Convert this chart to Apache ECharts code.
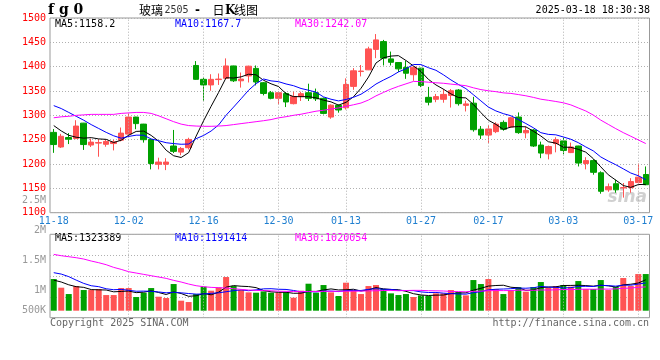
<!DOCTYPE html>
<html><head><meta charset="utf-8">
<script src="https://cdn.jsdelivr.net/npm/echarts@6/dist/echarts.min.js"></script>
<style>html,body{margin:0;padding:0;background:#fff}#c{width:660px;height:360px}</style>
</head><body><div id="c"></div>
<script>
const dates = ['11-18','11-19','11-20','11-21','11-22','11-25','11-26','11-27','11-28','11-29',
 '12-02','12-03','12-04','12-05','12-06','12-09','12-10','12-11','12-12','12-13',
 '12-16','12-17','12-18','12-19','12-20','12-23','12-24','12-25','12-26','12-27',
 '12-30','12-31','01-02','01-03','01-06','01-07','01-08','01-09','01-10','01-13',
 '01-14','01-15','01-16','01-17','01-20','01-21','01-22','01-23','01-24','01-27',
 '02-05','02-06','02-07','02-10','02-11','02-12','02-13','02-14','02-17','02-18',
 '02-19','02-20','02-21','02-24','02-25','02-26','02-27','02-28','03-03','03-04',
 '03-05','03-06','03-07','03-10','03-11','03-12','03-13','03-14','03-17','03-18'];
const tickDates = ['11-18','12-02','12-16','12-30','01-13','01-27','02-17','03-03','03-17'];

const openP = [1265,1235,1254.5,1252.5,1284,1239,1243,1240.5,1242,1249,
 1261.5,1296.5,1282,1250.5,1199.5,1199.5,1237,1224.5,1233.5,1402.5,
 1374,1362.5,1373.5,1376,1401.5,1371,1381,1396.5,1367,1346.5,
 1335,1345,1324,1338.5,1346.5,1346.5,1335,1296.5,1320.5,1315.5,
 1359.5,1390,1393.5,1435.5,1451.5,1416,1408.5,1398.5,1383.5,1397,
 1337,1333,1333,1341,1352,1320.5,1325,1271.5,1259.5,1266.5,
 1285.5,1276,1296.5,1264,1270,1239,1221,1242,1247.5,1223.5,
 1237,1201,1207,1182,1147,1159.5,1151,1151.5,1162,1178.5];
const closeP = [1240,1257,1251,1278,1240,1245,1244,1246.5,1245.5,1263.5,
 1296.5,1283,1250,1201,1204,1204,1226,1232,1250.5,1374,
 1362.5,1374,1374.5,1401.5,1371,1374.5,1401,1368.5,1345,1335,
 1346.5,1327.5,1338.5,1344.5,1335,1334,1304,1321,1311,1363.5,
 1391.5,1391,1436.5,1455,1417.5,1409,1395.5,1386.5,1399,1361.5,
 1327,1338.5,1343,1350.5,1324,1323.5,1270.5,1259.5,1272,1282,
 1271.5,1295,1264.5,1269,1237,1222.5,1236,1250,1228,1235,
 1202,1207,1183,1144,1153.5,1147,1151.5,1164,1173,1157.5];
const lowP = [1223,1233,1241,1251,1229,1235,1215,1235.5,1228,1246.5,
 1256,1271.5,1244,1189,1189,1187.5,1222.5,1218,1230,1373,
 1330,1350.5,1362.5,1375.5,1368.5,1357,1367.5,1361.5,1341,1333,
 1322.5,1317,1322.5,1329.5,1329.5,1329.5,1302,1293,1305.5,1312,
 1352.5,1380,1393,1417.5,1402.5,1402.5,1389,1375,1371,1358,
 1320.5,1327,1326,1316,1320,1308,1266.5,1251.5,1243,1263.5,
 1268.5,1274,1262,1253,1235,1212,1209.5,1224,1220,1222.5,
 1195,1189,1178,1139,1143,1141,1131,1141,1160,1156.5];
const highP = [1272,1262,1263.5,1290,1284.5,1252,1251,1250.5,1249.5,1275,
 1303.5,1297,1282.5,1251,1213,1212,1270,1235,1254,1411.5,
 1377.5,1384.5,1386,1417,1402,1388,1402,1402.5,1368.5,1350,
 1348.5,1348,1348.5,1348.5,1365,1355,1336.5,1322.5,1322.5,1376,
 1397,1403.5,1441,1467,1455,1431,1409.5,1412,1399.5,1397.5,
 1358.5,1344,1354,1354,1354,1330,1338,1278,1280,1286,
 1289.5,1297,1306,1277,1272,1246,1238,1255,1254,1244,
 1237.5,1214,1210,1185,1160,1168,1161,1171,1201,1195];

const ma5 = [1279,1268,1259,1255,1253.2,1254.2,1251.6,1250.7,1244.2,1248.9,
 1259.2,1267,1267.7,1258.8,1246.9,1228.4,1217,1213.4,1223.3,1257.3,
 1289,1318.6,1347.1,1377.3,1376.7,1379.1,1384.5,1383.3,1372,1364.8,
 1359.2,1344.5,1338.5,1338.4,1338.4,1335.9,1331.2,1327.7,1321,1326.7,
 1338.2,1355.6,1378.7,1407.5,1418.3,1421.8,1422.7,1412.7,1401.5,1390.3,
 1373.9,1362.5,1353.8,1344.1,1336.6,1335.9,1322.3,1305.6,1289.9,1281.5,
 1271.1,1276,1277,1276.4,1267.4,1257.6,1245.8,1242.9,1234.7,1234.3,
 1230.2,1224.4,1211,1194.2,1177.9,1166.9,1155.8,1152,1157.8,1158.2];
const ma10 = [1320,1314,1306,1298,1290,1281,1273,1265,1258,1253,
 1256.7,1259.3,1259.2,1251.5,1247.9,1243.8,1242,1240.6,1241.1,1252.1,
 1258.7,1267.8,1280.3,1300.3,1317,1334.1,1351.6,1365.2,1374.7,1370.8,
 1369.2,1364.5,1360.9,1355.2,1351.6,1347.6,1337.9,1333.1,1329.7,1332.6,
 1337.1,1343.4,1353.2,1364.3,1372.5,1380,1389.2,1395.7,1404.5,1404.3,
 1397.9,1392.6,1383.3,1372.8,1363.5,1354.9,1342.4,1329.7,1317,1309.1,
 1303.5,1299.2,1291.3,1283.2,1274.5,1264.4,1260.9,1260,1255.6,1250.9,
 1243.9,1235.1,1227,1214.5,1206.1,1198.6,1190.1,1181.5,1176,1167.7];
const ma30 = [1295,1297,1298,1300,1301,1302,1302,1302,1302,1304,
 1305,1306,1306,1304,1299,1293,1287,1282,1279,1278,
 1277.5,1277.5,1278,1279,1281,1283,1285,1287,1289,1291.3,
 1294.9,1297.2,1300.1,1302.3,1305.5,1308.5,1310.5,1313,1315.2,1318.5,
 1321.7,1325.3,1331.5,1340,1347.1,1353.9,1359.6,1364.7,1369.7,1369.3,
 1368.1,1366.9,1365.9,1364.2,1362.6,1360.9,1356.6,1352.9,1350.5,1348.7,
 1346.2,1345.1,1342.7,1340.2,1336.9,1333.2,1330.9,1328.5,1325.8,1321.5,
 1315.2,1309,1300.6,1290.2,1281.4,1272.7,1264.5,1257.1,1249.6,1242.07];

const volume = [1357000,986000,714000,1057000,886000,886000,929000,671000,671000,971000,
 971000,586000,771000,971000,600000,543000,1143000,429000,371000,714000,
 1029000,857000,1000000,1443000,1057000,886000,786000,771000,829000,771000,
 786000,786000,557000,857000,1157000,771000,1100000,786000,629000,1200000,
 886000,714000,1057000,1100000,929000,743000,671000,714000,586000,657000,
 629000,743000,743000,886000,800000,657000,1314000,1143000,1357000,929000,
 714000,886000,1014000,814000,1014000,1229000,1000000,1057000,1100000,1029000,
 1271000,929000,929000,1314000,886000,1014000,1400000,1057000,1571000,1571000];
const vma5 = [1310000,1230000,1110000,1030000,1000000,906000,894000,886000,809000,826000,
 843000,774000,794000,854000,780000,694000,806000,737000,617000,640000,
 737000,680000,794000,1009000,1077000,1049000,1034000,989000,866000,809000,
 789000,789000,746000,751000,829000,826000,888000,934000,889000,897000,
 920000,843000,897000,991000,937000,909000,900000,831000,729000,674000,
 651000,666000,672000,732000,760000,766000,880000,960000,1054000,1080000,
 1091000,1006000,980000,871000,888000,991000,1014000,1023000,1080000,1083000,
 1091000,1077000,1052000,1094000,1066000,1014000,1109000,1134000,1186000,1323389];
const vma10 = [1630000,1570000,1460000,1310000,1170000,1070000,1030000,940000,900000,913000,
 874000,834000,840000,831000,803000,768000,790000,766000,736000,710000,
 716000,743000,766000,813000,859000,893000,857000,891000,937000,943000,
 919000,912000,867000,809000,819000,807000,839000,840000,820000,863000,
 873000,866000,916000,940000,917000,914000,872000,864000,860000,806000,
 780000,783000,752000,730000,717000,709000,773000,816000,893000,920000,
 929000,943000,970000,963000,984000,1041000,1010000,1001000,976000,986000,
 1041000,1046000,1037000,1087000,1074000,1053000,1093000,1093000,1140000,1191414];
const vma30 = [2414000,2357000,2314000,2271000,2214000,2129000,2057000,1971000,1857000,1771000,
 1671000,1614000,1557000,1500000,1443000,1386000,1300000,1229000,1143000,1071000,
 1029000,1000000,986000,971000,943000,914000,886000,871000,860000,855000,
 836000,830000,824000,818000,827000,823000,829000,832000,831000,839000,
 836000,840000,850000,854000,865000,871000,856000,865000,872000,871000,
 857000,853000,845000,826000,818000,810000,828000,840000,858000,863000,
 861000,864000,879000,878000,873000,888000,885000,894000,910000,904000,
 917000,924000,920000,927000,925000,934000,959000,970000,1003000,1020054];

const priceLegend = ['MA5:1158.2','MA10:1167.7','MA30:1242.07'];
const volLegend = ['MA5:1323389','MA10:1191414','MA30:1020054'];
const volTickLabels = ['2.5M','2M','1.5M','1M','500K'];

// ---------- layout / styles ----------
const RED = '#ff5353', GREEN = '#00a000';
const MONO = '"DejaVu Sans Mono", "Liberation Mono", monospace';
const volTickY = [200.7, 230.7, 260.7, 290.7, 310.7];
const legendX = [55, 175, 295];
const maColors = ['#000000', '#0000ff', '#ff00ff'];

const candles = dates.map((d, i) => [openP[i], closeP[i], lowP[i], highP[i]]);
const volData = volume.map((v, i) => ({
  value: v,
  itemStyle: { color: closeP[i] >= openP[i] ? RED : GREEN }
}));
const vLines = tickDates.slice(1).map(d => ({ xAxis: d }));
const gridLineStyle = { color: '#b0b0b0', type: [1, 2], width: 1 };

function maLine(data, color, xi, yi) {
  return { type: 'line', data, xAxisIndex: xi, yAxisIndex: yi, showSymbol: false, symbol: 'none',
    lineStyle: { color, width: 1 }, z: 5, silent: true, animation: false };
}
function txt(text, x, y, fill, font, align, valign) {
  return { type: 'text', x, y, silent: true,
    style: { text, fill, font, textAlign: align || 'left', align: align || 'left',
             textVerticalAlign: valign || 'middle', verticalAlign: valign || 'middle' } };
}

const chart = echarts.init(document.getElementById('c'), null, { renderer: 'canvas' });
const graphics = [
  txt('f g 0', 48, 10.5, '#000', 'bold 14px "DejaVu Serif", serif'),
  txt('玻璃', 139, 10.5, '#000', '12px "Noto Sans CJK SC"'),
  txt('2505', 164.5, 10.5, '#333', '10px ' + MONO),
  txt('-', 195, 10.5, '#000', 'bold 12px "DejaVu Sans"'),
  txt('日', 212.5, 10.5, '#000', '12px "Noto Sans CJK SC"'),
  txt('K', 225, 10.5, '#000', 'bold 12px "DejaVu Serif", serif'),
  txt('线图', 234, 10.5, '#000', '12px "Noto Sans CJK SC"'),
  txt('2025-03-18 18:30:38', 650, 10.5, '#000', '10px ' + MONO, 'right'),
  txt('Copyright 2025 SINA.COM', 50, 323.5, '#666', '10px ' + MONO),
  txt('http://finance.sina.com.cn', 649, 323.5, '#666', '10px ' + MONO, 'right'),
  txt('sina', 647, 198, 'rgba(170,170,170,0.55)', 'italic bold 17px "DejaVu Sans"', 'right')
];
priceLegend.forEach((t, i) => graphics.push(txt(t, legendX[i], 24, maColors[i], '10px ' + MONO)));
volLegend.forEach((t, i) => graphics.push(txt(t, legendX[i], 238.5, maColors[i], '10px ' + MONO)));
volTickLabels.forEach((t, i) => graphics.push(txt(t, 46, volTickY[i], '#999', '10px ' + MONO, 'right')));

chart.setOption({
  animation: false,
  backgroundColor: '#fff',
  grid: [
    { left: 50, top: 18, width: 599.5, height: 194.7, show: true, borderColor: '#999', borderWidth: 1, outerBoundsMode: 'none', containLabel: false },
    { left: 50, top: 234.3, width: 599.5, height: 83.4, show: true, borderColor: '#999', borderWidth: 1, outerBoundsMode: 'none', containLabel: false }
  ],
  xAxis: [
    { type: 'category', gridIndex: 0, data: dates, boundaryGap: true,
      axisLine: { show: false }, axisTick: { show: false }, splitLine: { show: false },
      axisLabel: { show: true, interval: (i, v) => tickDates.includes(v), color: '#1f7fd0',
        fontFamily: MONO, fontSize: 10, margin: 4, hideOverlap: false } },
    { type: 'category', gridIndex: 1, data: dates, boundaryGap: true,
      axisLine: { show: false }, axisTick: { show: false }, axisLabel: { show: false }, splitLine: { show: false } }
  ],
  yAxis: [
    { type: 'value', gridIndex: 0, min: 1100, max: 1500, interval: 50, scale: false,
      axisLine: { show: false }, axisTick: { show: false },
      axisLabel: { color: '#ff0000', fontFamily: MONO, fontSize: 10, margin: 4,
        showMinLabel: true, showMaxLabel: true, formatter: v => String(v) },
      splitLine: { show: true, lineStyle: gridLineStyle } },
    { type: 'value', gridIndex: 1, min: -300000, max: 3274700,
      axisLine: { show: false }, axisTick: { show: false }, axisLabel: { show: false }, splitLine: { show: false } },
    { type: 'value', gridIndex: 1, min: 0, max: 4, interval: 1,
      axisLine: { show: false }, axisTick: { show: false }, axisLabel: { show: false },
      splitLine: { show: true, lineStyle: gridLineStyle } }
  ],
  graphic: graphics,
  series: [
    { type: 'line', xAxisIndex: 0, yAxisIndex: 0, data: [], z: 1, silent: true,
      markLine: { silent: true, symbol: ['none', 'none'], animation: false, label: { show: false },
        lineStyle: gridLineStyle, emphasis: { disabled: true }, data: vLines } },
    { type: 'line', xAxisIndex: 1, yAxisIndex: 1, data: [], z: 1, silent: true,
      markLine: { silent: true, symbol: ['none', 'none'], animation: false, label: { show: false },
        lineStyle: gridLineStyle, emphasis: { disabled: true }, data: vLines } },
    { type: 'candlestick', xAxisIndex: 0, yAxisIndex: 0, data: candles, barWidth: 6, z: 3, silent: true,
      itemStyle: { color: RED, color0: GREEN, borderColor: RED, borderColor0: GREEN, borderWidth: 1 } },
    maLine(ma5, maColors[0], 0, 0),
    maLine(ma10, maColors[1], 0, 0),
    maLine(ma30, maColors[2], 0, 0),
    { type: 'bar', xAxisIndex: 1, yAxisIndex: 1, data: volData, barWidth: 6, z: 3, silent: true },
    maLine(vma5, maColors[0], 1, 1),
    maLine(vma10, maColors[1], 1, 1),
    maLine(vma30, maColors[2], 1, 1)
  ]
});
</script></body></html>
